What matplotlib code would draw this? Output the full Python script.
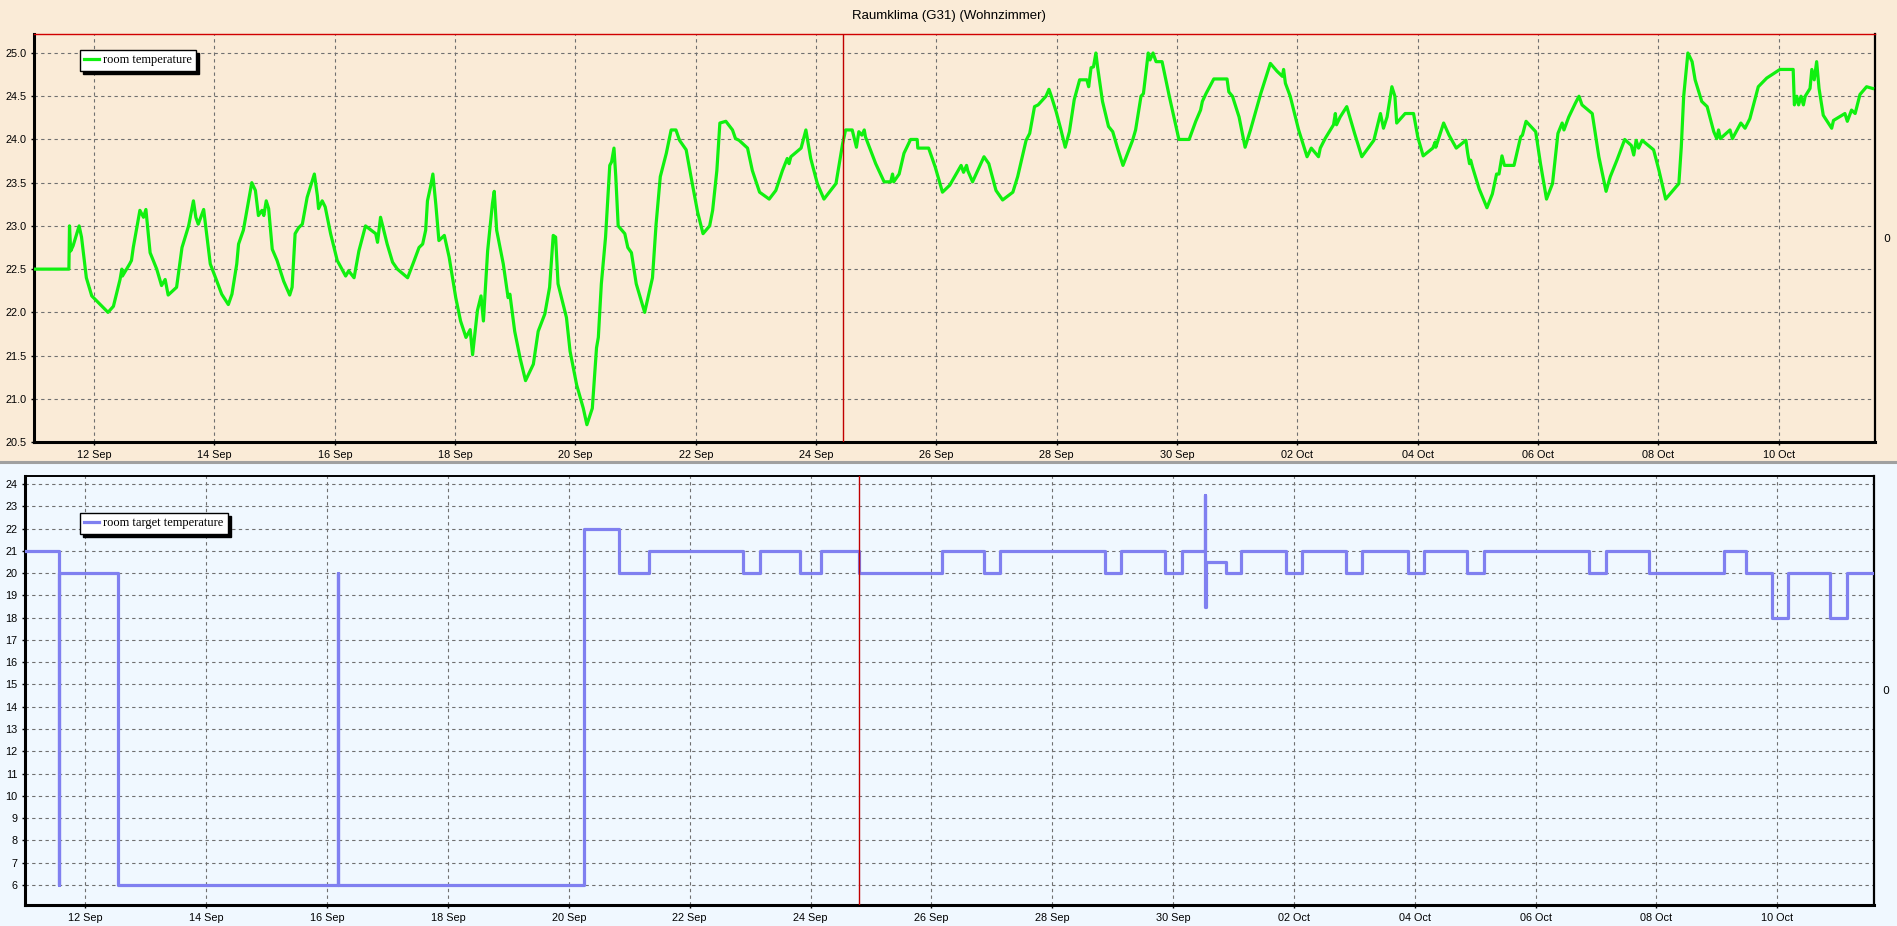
import numpy as np
import matplotlib
matplotlib.use("Agg")
import matplotlib.pyplot as plt
import matplotlib.dates as mdates
from matplotlib.patches import Rectangle
from matplotlib.lines import Line2D

# time in days since 11 Sep 00:00
t_room = [0.0, 0.58, 0.59, 0.61, 0.65, 0.75, 0.79, 0.87, 0.96, 1.23, 1.32, 1.43, 1.46, 1.47, 1.59, 1.62,
          1.65, 1.76, 1.82, 1.86, 1.93, 2.04, 2.12, 2.18, 2.23, 2.37, 2.46, 2.57, 2.65, 2.69, 2.73, 2.82,
          2.93, 3.04, 3.12, 3.23, 3.29, 3.37, 3.40, 3.48, 3.62, 3.68, 3.73, 3.79, 3.82, 3.86, 3.90, 3.96,
          4.04, 4.15, 4.25, 4.29, 4.34, 4.40, 4.46, 4.54, 4.66, 4.71, 4.73, 4.79, 4.84, 4.93, 5.04, 5.18,
          5.23, 5.32, 5.40, 5.51, 5.68, 5.71, 5.76, 5.87, 5.96, 6.04, 6.21, 6.32, 6.40, 6.46, 6.51, 6.54,
          6.59, 6.63, 6.68, 6.73, 6.82, 6.90, 7.01, 7.09, 7.18, 7.25, 7.29, 7.37, 7.43, 7.47, 7.54, 7.62,
          7.65, 7.69, 7.80, 7.88, 7.91, 7.99, 8.08, 8.17, 8.30, 8.38, 8.49, 8.57, 8.63, 8.67, 8.71, 8.85,
          8.91, 9.02, 9.13, 9.19, 9.28, 9.35, 9.38, 9.43, 9.50, 9.57, 9.60, 9.64, 9.67, 9.71, 9.82, 9.87,
          9.93, 10.01, 10.15, 10.28, 10.34, 10.41, 10.51, 10.59, 10.67, 10.73, 10.84, 10.92, 11.03, 11.12,
          11.23, 11.28, 11.35, 11.40, 11.50, 11.61, 11.66, 11.72, 11.86, 11.94, 12.06, 12.22, 12.33, 12.44,
          12.52, 12.55, 12.58, 12.75, 12.83, 12.91, 13.02, 13.13, 13.33, 13.44, 13.49, 13.60, 13.67, 13.71,
          13.76, 13.80, 13.82, 13.99, 14.13, 14.24, 14.27, 14.29, 14.38, 14.46, 14.57, 14.68, 14.69, 14.87,
          14.98, 15.10, 15.22, 15.41, 15.45, 15.50, 15.52, 15.60, 15.79, 15.87, 15.99, 16.10, 16.27, 16.35,
          16.49, 16.55, 16.63, 16.69, 16.82, 16.87, 16.91, 16.99, 17.07, 17.14, 17.21, 17.29, 17.38, 17.50,
          17.53, 17.57, 17.61, 17.65, 17.68, 17.76, 17.86, 17.93, 18.01, 18.10, 18.26, 18.31, 18.40, 18.44,
          18.48, 18.52, 18.55, 18.60, 18.65, 18.75, 18.87, 19.03, 19.20, 19.31, 19.39, 19.42, 19.48, 19.61,
          19.83, 19.86, 19.92, 20.03, 20.13, 20.22, 20.39, 20.55, 20.61, 20.66, 20.75, 20.77, 20.80, 20.88,
          21.02, 21.16, 21.23, 21.35, 21.38, 21.46, 21.60, 21.63, 21.65, 21.71, 21.82, 21.95, 22.07, 22.27,
          22.38, 22.43, 22.49, 22.57, 22.62, 22.65, 22.79, 22.93, 23.00, 23.09, 23.25, 23.29, 23.30, 23.43,
          23.52, 23.64, 23.80, 23.83, 23.86, 23.88, 23.91, 24.02, 24.15, 24.24, 24.31, 24.35, 24.40, 24.44,
          24.60, 24.71, 24.74, 24.80, 24.96, 25.04, 25.14, 25.24, 25.33, 25.40, 25.43, 25.51, 25.62, 25.68,
          25.73, 25.90, 26.01, 26.13, 26.20, 26.31, 26.44, 26.55, 26.59, 26.63, 26.67, 26.73, 26.92, 27.01,
          27.12, 27.34, 27.38, 27.42, 27.49, 27.56, 27.61, 27.72, 27.81, 27.92, 27.97, 28.00, 28.03, 28.19,
          28.23, 28.37, 28.44, 28.52, 28.66, 28.80, 29.02, 29.24, 29.26, 29.30, 29.33, 29.37, 29.41, 29.44,
          29.52, 29.55, 29.59, 29.63, 29.67, 29.74, 29.88, 29.91, 30.10, 30.14, 30.21, 30.27, 30.35, 30.46,
          30.56]
room_temp = [22.5, 22.5, 23.0, 22.71, 22.77, 23.0, 22.87, 22.4, 22.19, 22.0, 22.07, 22.38, 22.5, 22.42, 22.56, 22.6,
             22.75, 23.18, 23.1, 23.19, 22.69, 22.5, 22.31, 22.38, 22.2, 22.29, 22.75, 23.0, 23.29, 23.1, 23.02, 23.19,
             22.56, 22.36, 22.21, 22.09, 22.21, 22.56, 22.79, 22.95, 23.5, 23.41, 23.12, 23.18, 23.12, 23.29, 23.2, 22.73,
             22.6, 22.36, 22.2, 22.29, 22.91, 22.98, 23.02, 23.33, 23.6, 23.35, 23.2, 23.29, 23.22, 22.91, 22.6, 22.42,
             22.48, 22.4, 22.71, 23.0, 22.91, 22.81, 23.1, 22.79, 22.58, 22.5, 22.4, 22.6, 22.75, 22.79, 22.95, 23.29,
             23.45, 23.6, 23.24, 22.83, 22.89, 22.64, 22.17, 21.9, 21.71, 21.8, 21.51, 22.02, 22.19, 21.9, 22.71, 23.26,
             23.4, 22.95, 22.56, 22.17, 22.21, 21.78, 21.47, 21.21, 21.4, 21.78, 21.98, 22.29, 22.89, 22.87, 22.33, 21.94,
             21.55, 21.16, 20.89, 20.7, 20.89, 21.59, 21.71, 22.33, 22.87, 23.7, 23.74, 23.9, 23.57, 23.0, 22.91, 22.75,
             22.69, 22.33, 22.0, 22.4, 23.02, 23.57, 23.84, 24.11, 24.11, 23.99, 23.88, 23.57, 23.16, 22.91,
             23.0, 23.18, 23.64, 24.19, 24.21, 24.11, 24.01, 23.99, 23.9, 23.64, 23.39, 23.31, 23.41, 23.64,
             23.78, 23.72, 23.8, 23.9, 24.11, 23.78, 23.49, 23.31, 23.49, 23.95, 24.11, 24.11, 23.91, 24.09,
             24.05, 24.11, 24.03, 23.72, 23.51, 23.51, 23.6, 23.51, 23.6, 23.84, 24.0, 24.0, 23.9, 23.9,
             23.68, 23.39, 23.47, 23.7, 23.62, 23.7, 23.64, 23.51, 23.8, 23.72, 23.41, 23.3, 23.39, 23.57,
             23.99, 24.07, 24.38, 24.4, 24.5, 24.58, 24.5, 24.32, 24.11, 23.91, 24.09, 24.46, 24.69, 24.69,
             24.61, 24.83, 24.84, 25.0, 24.83, 24.44, 24.15, 24.09, 23.9, 23.7, 23.99, 24.11, 24.5, 24.53,
             24.77, 25.0, 24.92, 25.0, 24.9, 24.9, 24.5, 24.0, 24.0, 24.21, 24.34, 24.44, 24.53, 24.7,
             24.7, 24.55, 24.5, 24.26, 23.91, 24.11, 24.53, 24.88, 24.83, 24.79, 24.73, 24.81, 24.65, 24.5,
             24.11, 23.8, 23.9, 23.8, 23.9, 24.01, 24.17, 24.3, 24.17, 24.26, 24.38, 24.07, 23.8, 23.99,
             24.3, 24.13, 24.26, 24.61, 24.5, 24.19, 24.3, 24.3, 24.03, 23.81, 23.9, 23.97, 23.91, 24.19,
             24.05, 23.9, 23.99, 23.84, 23.72, 23.76, 23.68, 23.43, 23.21, 23.37, 23.6, 23.6, 23.81, 23.7,
             23.7, 24.03, 24.05, 24.21, 24.09, 23.72, 23.31, 23.49, 24.07, 24.19, 24.11, 24.26, 24.42, 24.5,
             24.4, 24.3, 23.8, 23.4, 23.57, 23.76, 24.0, 23.93, 23.82, 23.99, 23.9, 23.99, 23.88, 23.64,
             23.31, 23.49, 23.91, 24.5, 25.0, 24.9, 24.69, 24.44, 24.38, 24.09, 24.01, 24.11, 24.01, 24.11,
             24.01, 24.19, 24.13, 24.24, 24.61, 24.71, 24.81, 24.81, 24.4, 24.5, 24.4, 24.5, 24.4, 24.5,
             24.59, 24.81, 24.69, 24.9, 24.59, 24.28, 24.13, 24.22, 24.3, 24.21, 24.34, 24.3, 24.52, 24.61,
             24.59]

t_target = [0.0, 0.56, 0.565, 1.54, 5.18, 5.185, 9.25, 9.83, 10.33, 11.875, 12.17, 12.83, 13.18, 13.81,
            15.18, 15.875, 16.14, 17.87, 18.13, 18.87, 19.14, 19.53, 19.535, 19.54, 19.88, 20.13, 20.87,
            21.13, 21.87, 22.13, 22.89, 23.15, 23.87, 24.15, 25.88, 26.16, 26.88, 28.12, 28.48, 28.92,
            29.18, 29.88, 30.16, 30.6]
target_temp = [21, 6, 20, 6, 20, 6, 22, 20, 21, 20, 21, 20, 21, 20,
               21, 20, 21, 20, 21, 20, 21, 23.5, 18.5, 20.5, 20, 21, 20,
               21, 20, 21, 20, 21, 20, 21, 20, 21, 20, 21, 20, 18,
               20, 18, 20, 20]

cursor_top = 13.44
cursor_bottom = 13.81
tick_days = list(range(1, 31, 2))

start = np.datetime64("2015-09-11T00:00")


def to_dates(days):
    return start + (np.array(days) * 86400).astype("timedelta64[s]")


W, H = 1897, 926
fig = plt.figure(figsize=(W / 100, H / 100), dpi=100)
fig.patches.append(Rectangle((0, 462 / H), 1, 1, transform=fig.transFigure, color="#faebd7", zorder=-5))
fig.patches.append(Rectangle((0, 0), 1, 462 / H, transform=fig.transFigure, color="#f0f8ff", zorder=-5))
fig.add_artist(Line2D([0, 1], [1 - 462 / H] * 2, color="#a0a0a0", lw=2.2))

ax1 = fig.add_axes([34 / W, 1 - 442 / H, 1841 / W, 408 / H])
ax2 = fig.add_axes([25 / W, 1 - 905 / H, 1849 / W, 429 / H])

ax1.plot(to_dates(t_room), room_temp, color="#10f010", lw=2.3, label="room temperature", zorder=3)
ax2.step(to_dates(t_target), target_temp, where="post", color="#8080f0", lw=2.3,
         label="room target temperature", zorder=3)

ax1.axvline(to_dates([cursor_top])[0], color="#c00000", lw=1, zorder=4)
ax2.axvline(to_dates([cursor_bottom])[0], color="#c00000", lw=1, zorder=4)

ax1.set_ylim(20.5, 25.22)
ax1.set_yticks(np.arange(20.5, 25.01, 0.5))
ax1.yaxis.set_major_formatter(matplotlib.ticker.FormatStrFormatter("%.1f"))
ax2.set_ylim(5.1, 24.36)
ax2.set_yticks(np.arange(6, 25, 1))

for ax, bg in [(ax1, "#faebd7"), (ax2, "#f0f8ff")]:
    ax.set_facecolor(bg)
    ax.set_xlim(to_dates([0.0])[0], to_dates([30.6])[0])
    ax.set_xticks(to_dates(tick_days))
    ax.xaxis.set_major_formatter(mdates.DateFormatter("%d %b"))
    ax.grid(True, color="#707070", lw=0.8, linestyle=(0, (3, 3)))
    ax.tick_params(labelsize=7.8, length=2.5, width=1, pad=3)
    for lab in ax.get_xticklabels() + ax.get_yticklabels():
        lab.set_fontfamily("Liberation Sans")
    ax.spines["left"].set_linewidth(2.2)
    ax.spines["bottom"].set_linewidth(2.2)
    ax.spines["right"].set_linewidth(1.6)
    # secondary axis with a single 0 label
    tw = ax.twinx()
    tw.set_ylim(-1, 1)
    tw.set_yticks([0])
    tw.tick_params(length=0, labelsize=7.8, pad=6)
    for s in tw.spines.values():
        s.set_visible(False)

ax1.spines["top"].set_color("#d00000")
ax1.spines["top"].set_linewidth(1)
ax2.spines["top"].set_linewidth(1.4)

leg_kw = dict(loc="upper left", borderaxespad=0, fancybox=False, framealpha=1, edgecolor="black",
              facecolor="white", handlelength=1.2, handletextpad=0.3, borderpad=0.35,
              prop={"family": "Liberation Serif", "size": 9},
              shadow={"color": "black", "alpha": 1, "ox": 2, "oy": -2})
l1 = ax1.legend(bbox_to_anchor=(46 / 1841, 1 - 16 / 408), **leg_kw)
l2 = ax2.legend(bbox_to_anchor=(55 / 1849, 1 - 37 / 429), **leg_kw)
for lg in (l1, l2):
    lg.get_frame().set_linewidth(1)

fig.text(0.5, 1 - 16 / H, "Raumklima (G31) (Wohnzimmer)", ha="center", va="center",
         fontsize=9.5, family="Liberation Sans")

fig.savefig("out.png", dpi=100)
